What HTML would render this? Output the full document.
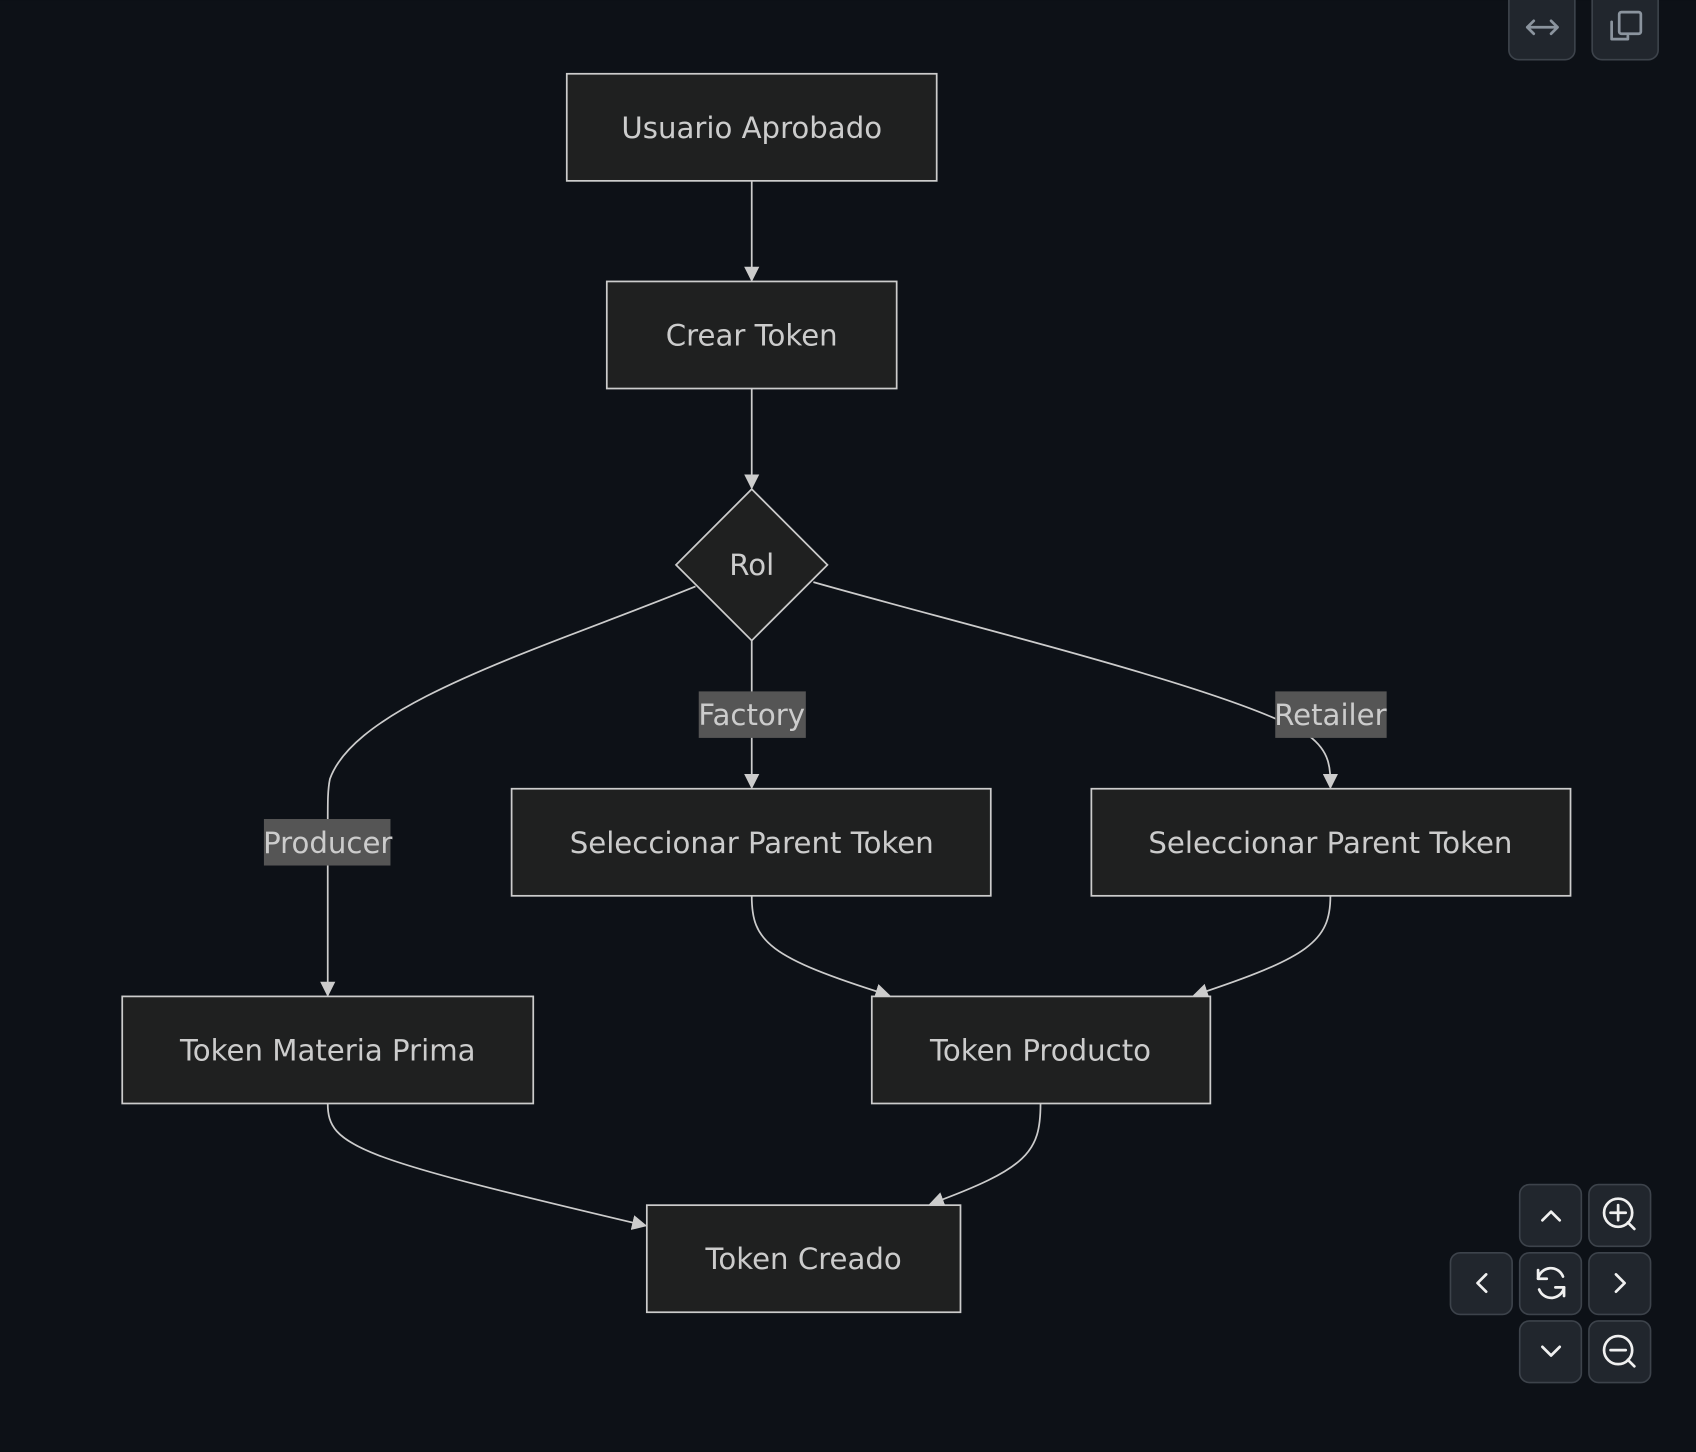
<!DOCTYPE html>
<html><head><meta charset="utf-8"><style>
html,body{margin:0;padding:0;background:#0d1117;width:1696px;height:1452px;overflow:hidden}
svg{display:block}
text{font-family:"DejaVu Sans","Liberation Sans",sans-serif}
</style></head><body>
<svg width="1696" height="1452" viewBox="0 0 1568 1342" xmlns="http://www.w3.org/2000/svg">
<defs><marker id="a" viewBox="0 0 10 10" refX="9" refY="5" markerWidth="8" markerHeight="8" markerUnits="userSpaceOnUse" orient="auto"><path d="M0,0L10,5L0,10z" fill="#ccc"/></marker>
<marker id="b" viewBox="0 0 10 10" refX="9" refY="5" markerWidth="14" markerHeight="14" markerUnits="userSpaceOnUse" orient="auto"><path d="M0,0L10,5L0,10z" fill="#ccc"/></marker></defs>
<rect width="1568" height="1342" fill="#0d1117"/>
<g fill="none" stroke="#ccc" stroke-width="1.6">
<path d="M695,167V259" marker-end="url(#b)"/>
<path d="M695,359V451" marker-end="url(#b)"/>
<path d="M695,592V728" marker-end="url(#b)"/>
<path d="M752,538C900,580 1150,640 1210,680C1230,695 1230,710 1230,728" marker-end="url(#b)"/>
<path d="M643,542C500,600 330,650 305,720C303,730 303,740 303,760V920" marker-end="url(#b)"/>
<path d="M695,828C695,870 710,885 822,920" marker-end="url(#b)"/>
<path d="M1230,828C1230,870 1210,885 1104,920" marker-end="url(#b)"/>
<path d="M303,1020C303,1060 330,1070 597,1133" marker-end="url(#b)"/>
<path d="M962,1020C962,1065 950,1080 860,1113" marker-end="url(#b)"/>
</g>
<g fill="#1f2020" stroke="#ccc" stroke-width="1.6">
<rect x="524" y="68" width="342" height="99"/>
<rect x="561" y="260" width="268" height="99"/>
<path d="M695,452L765,522L695,592L625,522z"/>
<rect x="473" y="729" width="443" height="99"/>
<rect x="1009" y="729" width="443" height="99"/>
<rect x="113" y="921" width="380" height="99"/>
<rect x="806" y="921" width="313" height="99"/>
<rect x="598" y="1114" width="290" height="99"/>
</g>
<g fill="#555">
<rect x="646" y="639" width="99" height="43"/>
<rect x="1179" y="639" width="103" height="43"/>
<rect x="244" y="757" width="117" height="43"/>
</g>
<g fill="#ccc" font-size="27" text-anchor="middle" dominant-baseline="central">
<text x="695" y="118">Usuario Aprobado</text>
<text x="695" y="310">Crear Token</text>
<text x="695" y="522">Rol</text>
<text x="695" y="661">Factory</text>
<text x="1230" y="661">Retailer</text>
<text x="303" y="779">Producer</text>
<text x="695" y="779">Seleccionar Parent Token</text>
<text x="1230" y="779">Seleccionar Parent Token</text>
<text x="303" y="971">Token Materia Prima</text>
<text x="962" y="971">Token Producto</text>
<text x="743" y="1164">Token Creado</text>
</g>
<g fill="#21262d" stroke="#3d434b" stroke-width="1.5">
<rect x="1395" y="-10" width="61" height="65" rx="9"/>
<rect x="1472" y="-10" width="61" height="65" rx="9"/>
<rect x="1405" y="1095" width="57" height="57" rx="9"/>
<rect x="1469" y="1095" width="57" height="57" rx="9"/>
<rect x="1341" y="1158" width="57" height="57" rx="9"/>
<rect x="1405" y="1158" width="57" height="57" rx="9"/>
<rect x="1469" y="1158" width="57" height="57" rx="9"/>
<rect x="1405" y="1221" width="57" height="57" rx="9"/>
<rect x="1469" y="1221" width="57" height="57" rx="9"/>
</g>
<g fill="none" stroke="#8b949e" stroke-width="2.5" stroke-linecap="round" stroke-linejoin="round">
<path d="M1412,25H1440M1418,19L1412,25L1418,31M1434,19L1440,25L1434,31"/>
<rect x="1497" y="11" width="20" height="20" rx="2"/>
<path d="M1490,20V36H1505V33"/>
</g>
<g fill="none" stroke="#f0f0f0" stroke-width="2.5" stroke-linecap="round" stroke-linejoin="round">
<path d="M1426,1128L1434,1120L1442,1128"/>
<path d="M1426,1245L1434,1253L1442,1245"/>
<path d="M1374,1178L1366,1186L1374,1194"/>
<path d="M1494,1178L1502,1186L1494,1194"/>
<circle cx="1496" cy="1121" r="13"/><path d="M1496,1114V1128M1489,1121H1503M1505,1130L1511,1136"/>
<circle cx="1496" cy="1248" r="13"/><path d="M1489,1248H1503M1505,1257L1511,1263"/>
<path d="M1422,1182A12,12 0 0 1 1445,1180M1446,1190A12,12 0 0 1 1423,1192"/>
<path d="M1422,1174V1182H1430M1446,1198V1190H1438"/>
</g>
</svg>
</body></html>
